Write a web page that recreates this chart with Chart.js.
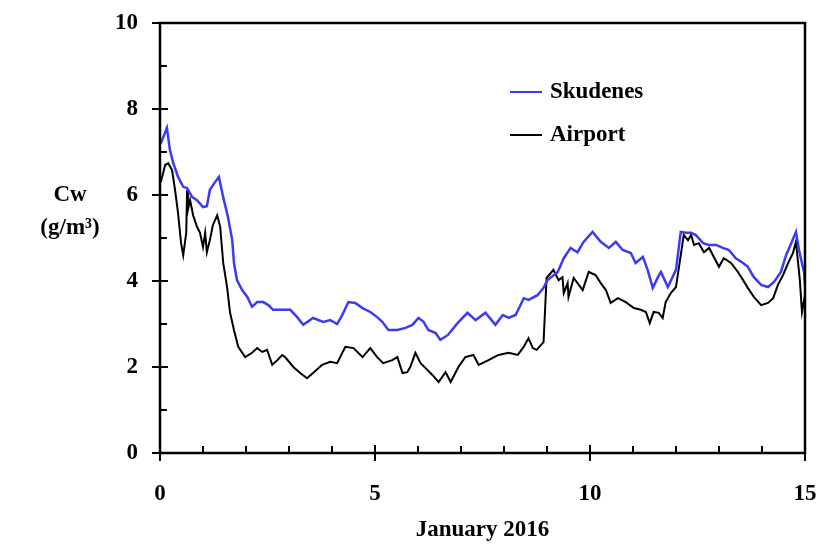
<!DOCTYPE html>
<html>
<head>
<meta charset="utf-8">
<script src="https://cdn.jsdelivr.net/npm/chart.js@4"></script>
<style>
  body { margin: 0; background: #fff; }
  #wrap { width: 820px; height: 547px; }
</style>
</head>
<body>
<div id="wrap"><canvas id="cwChart"></canvas></div>
<script>
// values (day of January 2016, Cw in g/m3)
const skudenesDays = [0.02,0.16,0.23,0.30,0.42,0.54,0.63,0.75,0.86,1.00,1.09,1.16,1.28,1.37,1.47,1.58,1.68,1.72,1.79,1.91,2.03,2.14,2.26,2.40,2.52,2.63,2.80,3.03,3.19,3.33,3.56,3.80,3.96,4.12,4.24,4.38,4.54,4.71,4.89,5.05,5.17,5.31,5.52,5.71,5.87,6.01,6.13,6.24,6.41,6.52,6.69,6.92,7.15,7.34,7.57,7.80,7.97,8.11,8.27,8.46,8.57,8.78,8.92,9.01,9.25,9.39,9.55,9.71,9.85,10.06,10.25,10.44,10.60,10.76,10.95,11.06,11.23,11.34,11.46,11.58,11.65,11.81,12.00,12.11,12.23,12.35,12.46,12.63,12.77,12.93,13.09,13.23,13.39,13.56,13.67,13.81,13.98,14.14,14.28,14.44,14.56,14.68,14.79,14.86,14.98,15.00];
const skudenesCw = [7.20,7.56,7.05,6.77,6.42,6.19,6.16,5.95,5.88,5.72,5.74,6.12,6.30,6.42,5.95,5.49,4.95,4.42,4.02,3.79,3.63,3.40,3.51,3.51,3.44,3.33,3.33,3.33,3.16,2.98,3.14,3.05,3.09,3.00,3.21,3.51,3.49,3.37,3.28,3.16,3.05,2.86,2.86,2.91,2.98,3.14,3.05,2.86,2.79,2.63,2.74,3.02,3.26,3.09,3.26,2.98,3.21,3.14,3.21,3.60,3.56,3.67,3.84,4.02,4.21,4.53,4.77,4.67,4.91,5.14,4.91,4.77,4.91,4.72,4.65,4.42,4.56,4.26,3.84,4.09,4.21,3.86,4.26,5.14,5.12,5.12,5.07,4.88,4.84,4.84,4.77,4.72,4.53,4.42,4.33,4.09,3.91,3.86,3.98,4.21,4.60,4.88,5.14,4.72,4.19,3.90];

const airportDays = [0.02,0.12,0.19,0.28,0.35,0.42,0.49,0.54,0.61,0.63,0.65,0.70,0.77,0.86,0.93,1.00,1.05,1.09,1.16,1.23,1.33,1.40,1.47,1.56,1.63,1.72,1.82,1.98,2.14,2.26,2.38,2.49,2.61,2.73,2.84,2.91,3.10,3.26,3.42,3.56,3.77,3.96,4.12,4.31,4.50,4.71,4.89,5.05,5.19,5.40,5.52,5.64,5.75,5.82,5.94,6.06,6.17,6.34,6.48,6.64,6.76,6.94,7.10,7.29,7.41,7.64,7.87,8.11,8.32,8.46,8.57,8.67,8.76,8.92,8.99,9.15,9.27,9.36,9.39,9.48,9.50,9.62,9.74,9.83,9.97,10.13,10.25,10.37,10.48,10.65,10.83,11.02,11.18,11.30,11.39,11.48,11.60,11.69,11.76,11.88,12.00,12.07,12.18,12.28,12.35,12.42,12.53,12.65,12.77,12.88,13.00,13.11,13.28,13.44,13.56,13.67,13.81,13.98,14.14,14.26,14.37,14.49,14.61,14.72,14.79,14.88,14.93,14.98,15.00];
const airportCw = [6.30,6.70,6.74,6.58,6.12,5.58,4.88,4.60,5.12,6.12,5.65,5.88,5.53,5.26,5.12,4.79,5.12,4.67,4.95,5.30,5.53,5.26,4.42,3.86,3.26,2.86,2.47,2.23,2.33,2.44,2.35,2.40,2.05,2.16,2.28,2.23,2.00,1.86,1.74,1.86,2.05,2.12,2.09,2.47,2.44,2.23,2.44,2.23,2.09,2.16,2.23,1.86,1.88,2.00,2.33,2.09,1.98,1.81,1.65,1.88,1.65,2.00,2.23,2.28,2.05,2.16,2.28,2.33,2.28,2.47,2.67,2.44,2.40,2.58,4.07,4.26,4.02,4.09,3.72,3.95,3.63,4.07,3.91,3.79,4.21,4.14,3.95,3.79,3.49,3.60,3.51,3.37,3.33,3.28,3.02,3.28,3.26,3.14,3.51,3.72,3.86,4.33,5.07,4.95,5.07,4.84,4.88,4.67,4.77,4.56,4.33,4.53,4.42,4.21,4.02,3.84,3.63,3.44,3.49,3.60,3.91,4.14,4.42,4.65,4.91,4.02,3.28,3.56,3.40];

const xTicks = [0, 5, 10, 15];
const yTicks = [0, 2, 4, 6, 8, 10];
const seriesNames = ["Skudenes", "Airport"];
const yTitle = ["Cw", "(g/m³)"];
const xTitle = "January 2016";

const FONT = "bold 23px 'Liberation Serif', serif";
const tickFont = { family: "'Liberation Serif', serif", size: 23, weight: "bold" };

function toPoints(xs, ys) {
    return xs.map((x, i) => ({ x: x, y: ys[i] }));
}

const frameAndTicks = {
    id: "frameAndTicks",
    afterDraw(chart) {
        const ctx = chart.ctx;
        const a = chart.chartArea;
        const xs = chart.scales.x;
        const ys = chart.scales.y;
        ctx.save();
        ctx.strokeStyle = "#000";
        ctx.lineWidth = 2.5;
        ctx.strokeRect(a.left, a.top, a.right - a.left, a.bottom - a.top);

        ctx.lineWidth = 2;
        ctx.beginPath();
        for (let v = 0; v <= 10; v++) {
            let py = ys.getPixelForValue(v);
            if (yTicks.includes(v)) {
                ctx.moveTo(a.left - 8, py); ctx.lineTo(a.left + 8, py);
            } else {
                ctx.moveTo(a.left, py); ctx.lineTo(a.left + 7, py);
            }
        }
        for (let d = 0; d <= 15; d++) {
            let px = xs.getPixelForValue(d);
            if (xTicks.includes(d)) {
                ctx.moveTo(px, a.bottom - 8); ctx.lineTo(px, a.bottom + 8);
            } else {
                ctx.moveTo(px, a.bottom); ctx.lineTo(px, a.bottom - 7);
            }
        }
        ctx.stroke();

        // legend inside the plot
        ctx.font = FONT;
        ctx.textBaseline = "middle";
        ctx.textAlign = "left";
        const legendColors = ["#3b3bf5", "#000"];
        const legendY = [92, 135];
        seriesNames.forEach((name, i) => {
            ctx.strokeStyle = legendColors[i];
            ctx.lineWidth = 2;
            ctx.beginPath();
            ctx.moveTo(510, legendY[i]);
            ctx.lineTo(542, legendY[i]);
            ctx.stroke();
            ctx.fillStyle = "#000";
            ctx.fillText(name, 550, legendY[i]);
        });

        // axis titles
        ctx.textAlign = "center";
        ctx.fillText(yTitle[0], 70, 195);
        ctx.fillText(yTitle[1], 70, 228);
        ctx.fillText(xTitle, (a.left + a.right) / 2, 530);
        ctx.restore();
    }
};

new Chart(document.getElementById("cwChart").getContext("2d"), {
    type: "line",
    data: {
        datasets: [
            {
                label: seriesNames[0],
                data: toPoints(skudenesDays, skudenesCw),
                borderColor: "#3b3bf5",
                borderWidth: 2.5,
                pointRadius: 0,
                tension: 0,
                fill: false
            },
            {
                label: seriesNames[1],
                data: toPoints(airportDays, airportCw),
                borderColor: "#000000",
                borderWidth: 2,
                pointRadius: 0,
                tension: 0,
                fill: false
            }
        ]
    },
    options: {
        responsive: true,
        maintainAspectRatio: false,
        animation: false,
        layout: { padding: { top: 23, right: 15, left: 0, bottom: 0 } },
        plugins: {
            legend: { display: false },
            tooltip: { enabled: false }
        },
        scales: {
            x: {
                type: "linear",
                min: 0,
                max: 15,
                grid: { display: false },
                border: { display: false },
                afterFit: s => { s.height = 94; s.paddingLeft = 0; s.paddingRight = 0; },
                afterBuildTicks: s => { s.ticks = xTicks.map(v => ({ value: v })); },
                ticks: {
                    color: "#000",
                    font: tickFont,
                    padding: 19,
                    maxRotation: 0
                }
            },
            y: {
                min: 0,
                max: 10,
                grid: { display: false },
                border: { display: false },
                afterFit: s => { s.width = 160; s.paddingTop = 0; s.paddingBottom = 0; },
                afterBuildTicks: s => { s.ticks = yTicks.map(v => ({ value: v })); },
                ticks: {
                    color: "#000",
                    font: tickFont,
                    padding: 14
                }
            }
        }
    },
    plugins: [frameAndTicks]
});
</script>
</body>
</html>
